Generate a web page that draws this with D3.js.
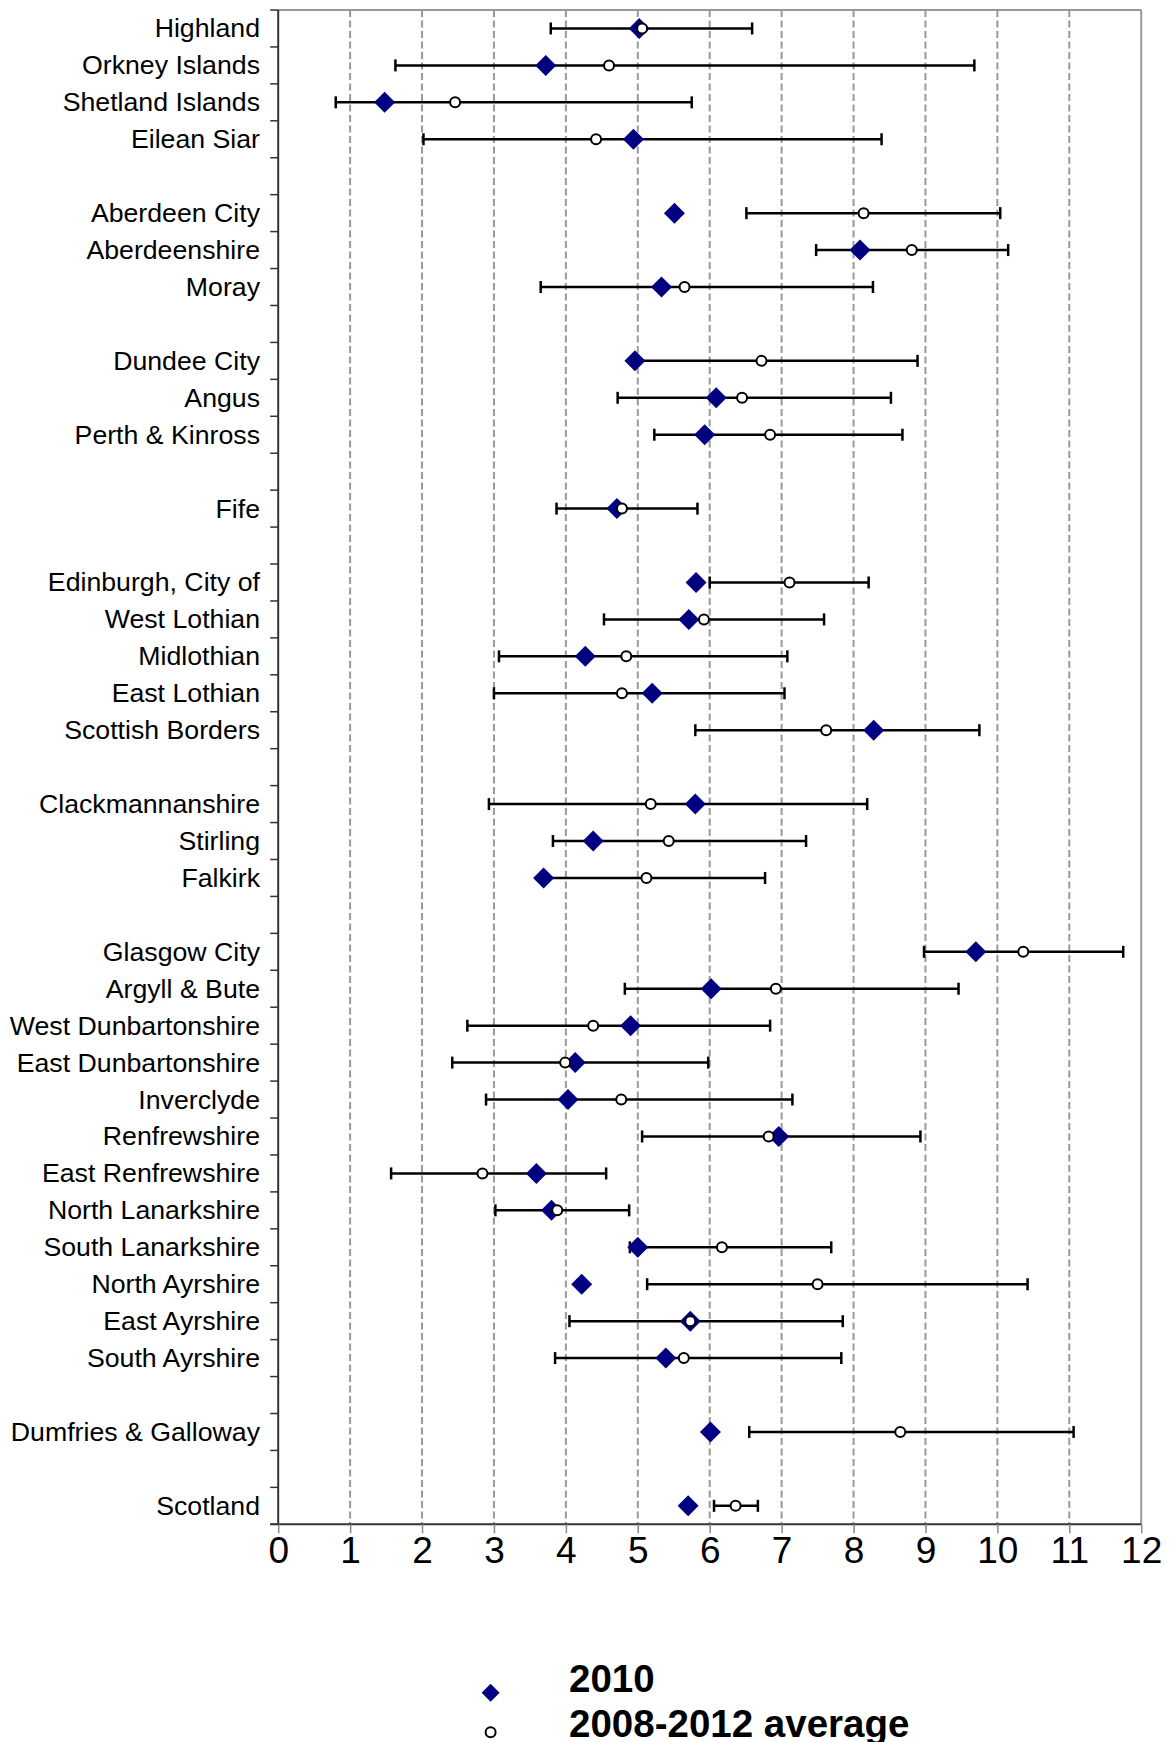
<!DOCTYPE html>
<html>
<head>
<meta charset="utf-8">
<script src="https://cdn.jsdelivr.net/npm/d3@7"></script>
<style>
  html, body { margin: 0; padding: 0; background: #fff; }
  svg { display: block; }
  text { font-family: "Liberation Sans", Arial, sans-serif; }
</style>
</head>
<body>
<script>
// ---- Data (gaps between council groups are empty categories) ----
const categories = [
  "Highland", "Orkney Islands", "Shetland Islands", "Eilean Siar", "",
  "Aberdeen City", "Aberdeenshire", "Moray", "",
  "Dundee City", "Angus", "Perth & Kinross", "",
  "Fife", "",
  "Edinburgh, City of", "West Lothian", "Midlothian", "East Lothian", "Scottish Borders", "",
  "Clackmannanshire", "Stirling", "Falkirk", "",
  "Glasgow City", "Argyll & Bute", "West Dunbartonshire", "East Dunbartonshire", "Inverclyde",
  "Renfrewshire", "East Renfrewshire", "North Lanarkshire", "South Lanarkshire",
  "North Ayrshire", "East Ayrshire", "South Ayrshire", "",
  "Dumfries & Galloway", "",
  "Scotland"
];
const value2010 = [
  5.02, 3.72, 1.48, 4.94, null,
  5.51, 8.09, 5.33, null,
  4.96, 6.09, 5.93, null,
  4.71, null,
  5.81, 5.71, 4.27, 5.20, 8.28, null,
  5.80, 4.38, 3.69, null,
  9.70, 6.02, 4.90, 4.13, 4.03,
  6.96, 3.59, 3.80, 5.00,
  4.22, 5.73, 5.39, null,
  6.01, null,
  5.70
];
const average = [
  5.06, 4.60, 2.46, 4.42, null,
  8.14, 8.81, 5.65, null,
  6.72, 6.45, 6.84, null,
  4.78, null,
  7.11, 5.92, 4.84, 4.78, 7.62, null,
  5.18, 5.43, 5.12, null,
  10.36, 6.92, 4.38, 3.99, 4.77,
  6.82, 2.84, 3.88, 6.17,
  7.50, 5.73, 5.64, null,
  8.65, null,
  6.36
];
const lower = [
  3.79, 1.63, 0.80, 2.02, null,
  6.51, 7.48, 3.65, null,
  4.98, 4.72, 5.23, null,
  3.87, null,
  6.00, 4.53, 3.07, 3.00, 5.80, null,
  2.93, 3.82, 3.72, null,
  8.98, 4.82, 2.63, 2.42, 2.89,
  5.06, 1.57, 3.02, 4.89,
  5.13, 4.05, 3.85, null,
  6.55, null,
  6.06
];
const upper = [
  6.59, 9.68, 5.75, 8.39, null,
  10.04, 10.15, 8.27, null,
  8.89, 8.52, 8.68, null,
  5.83, null,
  8.21, 7.59, 7.08, 7.04, 9.75, null,
  8.19, 7.34, 6.77, null,
  11.75, 9.46, 6.84, 5.98, 7.15,
  8.93, 4.56, 4.88, 7.69,
  10.42, 7.85, 7.83, null,
  11.06, null,
  6.67
];
const xTicks = [0, 1, 2, 3, 4, 5, 6, 7, 8, 9, 10, 11, 12];
const legendLabels = ["2010", "2008-2012 average"];

// ---- Layout ----
const W = 1169, H = 1742;
const plot = { left: 278.2, right: 1141.2, top: 10, bottom: 1524.3 };
const navy = "#000080";

const svg = d3.select("body").append("svg").attr("width", W).attr("height", H);

const x = d3.scaleLinear().domain([0, 12]).range([plot.left, plot.right]);
const y = d3.scaleBand().domain(d3.range(categories.length)).range([plot.top, plot.bottom]).padding(0);
const cy = i => y(i) + y.bandwidth() / 2;

const rows = categories.map((c, i) => ({
  name: c, v: value2010[i], a: average[i], lo: lower[i], hi: upper[i], i
}));
const dataRows = rows.filter(d => d.v !== null);

// Grid lines (dashed)
svg.append("g").selectAll("line")
  .data(xTicks.filter(t => t > 0 && t < 12))
  .join("line")
  .attr("x1", d => x(d)).attr("x2", d => x(d))
  .attr("y1", plot.top).attr("y2", plot.bottom)
  .attr("stroke", "#999").attr("stroke-width", 2)
  .attr("stroke-dasharray", "7,3.5");

// Plot frame (top/right in grey)
svg.append("line").attr("x1", plot.left).attr("x2", plot.right)
  .attr("y1", plot.top).attr("y2", plot.top)
  .attr("stroke", "#999").attr("stroke-width", 2);
svg.append("line").attr("x1", plot.right).attr("x2", plot.right)
  .attr("y1", plot.top).attr("y2", plot.bottom)
  .attr("stroke", "#999").attr("stroke-width", 2);

// X axis
const xAxis = svg.append("g").attr("transform", `translate(0,${plot.bottom})`)
  .call(d3.axisBottom(x).tickValues(xTicks).tickFormat(d3.format("d")).tickSize(9).tickPadding(3));
xAxis.select(".domain").attr("stroke", "#333").attr("stroke-width", 2)
  .attr("d", `M${plot.left - 8},0H${plot.right}`);
xAxis.selectAll(".tick line").attr("stroke", "#888").attr("stroke-width", 1.5);
xAxis.selectAll(".tick text")
  .attr("fill", "#000").attr("font-size", 37).attr("dy", null).attr("y", 38.5)
  .style("font-family", '"Liberation Sans", Arial, sans-serif');

// Y axis: line + boundary ticks
svg.append("line").attr("x1", plot.left).attr("x2", plot.left)
  .attr("y1", plot.top).attr("y2", plot.bottom)
  .attr("stroke", "#333").attr("stroke-width", 2);
const boundaries = d3.range(categories.length + 1).map(i => plot.top + i * y.bandwidth());
svg.append("g").selectAll("line").data(boundaries).join("line")
  .attr("x1", plot.left - 8).attr("x2", plot.left)
  .attr("y1", d => d).attr("y2", d => d)
  .attr("stroke", "#333").attr("stroke-width", 1.5);

// Category labels
svg.append("g").selectAll("text").data(rows.filter(d => d.name !== "")).join("text")
  .attr("x", 260).attr("y", d => cy(d.i) + 9)
  .attr("text-anchor", "end").attr("font-size", 26.7).attr("fill", "#000")
  .text(d => d.name);

// Error bars (on the 2008-2012 average)
const eb = svg.append("g").attr("stroke", "#000").attr("stroke-width", 2.5);
eb.selectAll("line.bar").data(dataRows).join("line").attr("class", "bar")
  .attr("x1", d => x(d.lo)).attr("x2", d => x(d.hi))
  .attr("y1", d => cy(d.i)).attr("y2", d => cy(d.i));
eb.selectAll("line.capl").data(dataRows).join("line").attr("class", "capl")
  .attr("x1", d => x(d.lo)).attr("x2", d => x(d.lo))
  .attr("y1", d => cy(d.i) - 6).attr("y2", d => cy(d.i) + 6);
eb.selectAll("line.caph").data(dataRows).join("line").attr("class", "caph")
  .attr("x1", d => x(d.hi)).attr("x2", d => x(d.hi))
  .attr("y1", d => cy(d.i) - 6).attr("y2", d => cy(d.i) + 6);

// 2010 diamonds
const diamond = (px, py, hw, hh) => `M${px},${py - hh}L${px + hw},${py}L${px},${py + hh}L${px - hw},${py}Z`;
svg.append("g").selectAll("path").data(dataRows).join("path")
  .attr("d", d => diamond(x(d.v), cy(d.i), 10.5, 10.5))
  .attr("fill", navy);

// Average circles
svg.append("g").selectAll("circle").data(dataRows).join("circle")
  .attr("cx", d => x(d.a)).attr("cy", d => cy(d.i)).attr("r", 5)
  .attr("fill", "#fff").attr("stroke", "#000").attr("stroke-width", 2);

// Legend
const lg = svg.append("g");
lg.append("path").attr("d", diamond(490.6, 1692.7, 9, 9)).attr("fill", navy);
lg.append("circle").attr("cx", 490.6).attr("cy", 1732.3).attr("r", 5)
  .attr("fill", "#fff").attr("stroke", "#000").attr("stroke-width", 2);
lg.selectAll("text").data(legendLabels).join("text")
  .attr("x", 569).attr("y", (d, i) => i === 0 ? 1691.7 : 1736.7)
  .attr("font-size", 38.5).attr("font-weight", "bold").attr("fill", "#000")
  .text(d => d);
</script>
</body>
</html>
